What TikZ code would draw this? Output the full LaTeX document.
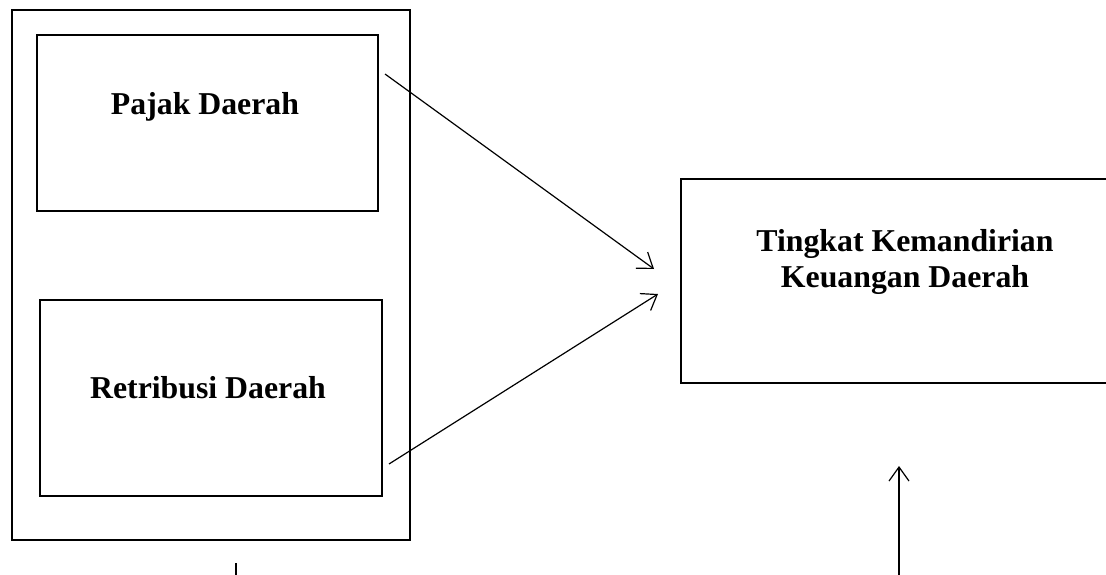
\documentclass[tikz,border=0pt]{standalone}
\usepackage{fontspec}
\setmainfont{Liberation Serif}
\usetikzlibrary{arrows.meta}
\begin{document}
\begin{tikzpicture}[x=1pt,y=-1pt,
  kotak/.style={draw,line width=2.6pt,inner sep=0pt},
  teks/.style={font=\bfseries\fontsize{31.8}{36}\selectfont,anchor=base,align=center,inner sep=0pt},
  panah/.style={line width=1.2pt,-{Straight Barb[length=14pt,width=20pt]}}]
\clip (0,0) rectangle (1106,575);
\fill[white] (0,0) rectangle (1106,575);
% kotak variabel
\node[kotak,minimum width=398pt,minimum height=530pt] (luar) at (211,275) {};
\node[kotak,minimum width=341pt,minimum height=176pt] (pajak) at (207.5,123) {};
\node[kotak,minimum width=342pt,minimum height=196pt] (retribusi) at (211,398) {};
\node[kotak,minimum width=448pt,minimum height=204pt] (mandiri) at (905,281) {};
% teks
\node[teks] (tpajak) at (205,115) {Pajak Daerah};
\node[teks] (tretribusi) at (208,398) {Retribusi Daerah};
\node[teks] (tmandiri) at (905,287) {Tingkat Kemandirian\\Keuangan Daerah};
% panah
\coordinate (a1) at (385,74);
\coordinate (b1) at (654,269);
\coordinate (a2) at (389,464);
\coordinate (b2) at (658,294);
\coordinate (a3) at (899,580);
\coordinate (b3) at (899,466);
\coordinate (c1) at (236,563);
\coordinate (c2) at (236,580);
\draw[panah] (a1) -- (b1);
\draw[panah] (a2) -- (b2);
\draw[panah] (a3) -- (b3);
\draw[line width=1.2pt] (c1) -- (c2);
\end{tikzpicture}
\end{document}
